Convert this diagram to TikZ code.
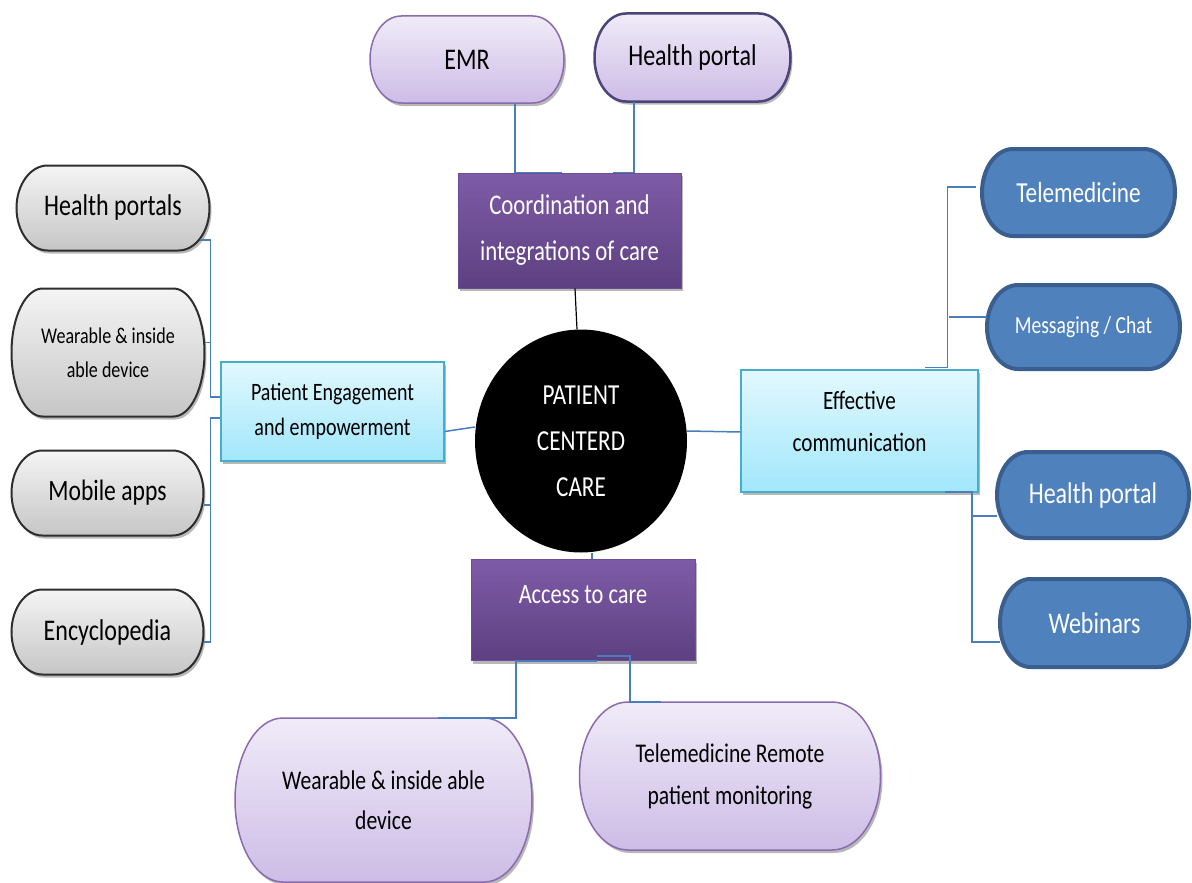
\documentclass[tikz,border=0pt]{standalone}
\usepackage{fontspec}
\setmainfont{Carlito}[FakeStretch=0.8]
\usetikzlibrary{shapes.geometric,shadows}
\definecolor{lineblue}{HTML}{4A7EBB}
\definecolor{lavtop}{HTML}{F0EBF8}
\definecolor{lavbot}{HTML}{CDBCE6}
\definecolor{lavborder}{HTML}{8A6BAD}
\definecolor{hpborder}{HTML}{4B4479}
\definecolor{grytop}{HTML}{F4F4F4}
\definecolor{grybot}{HTML}{C6C6C6}
\definecolor{gryborder}{HTML}{2E2E2E}
\definecolor{bluefill}{HTML}{4F81BD}
\definecolor{blueborder}{HTML}{3A5E8E}
\definecolor{cyantop}{HTML}{E2F8FE}
\definecolor{cyanbot}{HTML}{A1E7FB}
\definecolor{cyanborder}{HTML}{45AFCB}
\definecolor{purtop}{HTML}{7E5BA7}
\definecolor{purbot}{HTML}{5D4081}
\definecolor{purborder}{HTML}{6C4E95}
\newcommand\myfs[2]{\fontsize{#1pt}{#2pt}\selectfont}
% #1 shape style, #2 text style, #3 name, #4 cx, #5 cy, #6 w, #7 h, #8 text
\newcommand\pill[8]{%
  \pgfmathsetmacro\pxa{#4-#6/2}\pgfmathsetmacro\pxb{#4+#6/2}%
  \pgfmathsetmacro\pya{#5-#7/2}\pgfmathsetmacro\pyb{#5+#7/2}%
  \pgfmathsetmacro\prx{0.161*#6}\pgfmathsetmacro\pry{#7/2}%
  \path[#1] ({\pxa+\prx},\pya) -- ({\pxb-\prx},\pya)
    arc[start angle=90,end angle=-90,x radius=\prx pt,y radius=\pry pt]
    -- ({\pxa+\prx},\pyb)
    arc[start angle=270,end angle=90,x radius=\prx pt,y radius=\pry pt] -- cycle;
  \node[#2,inner sep=0pt,align=center,minimum width=#6pt,minimum height=#7pt] (#3) at (#4,#5) {#8};%
}
\begin{document}
\begin{tikzpicture}[x=1pt,y=-1pt,
  conn/.style={draw=lineblue,line width=1.5pt},
  shad/.style={drop shadow={shadow xshift=2pt,shadow yshift=-3pt,opacity=0.28,fill=black}},
  lav/.style={top color=lavtop,bottom color=lavbot,draw=lavborder,line width=1.5pt,shad},
  gry/.style={top color=grytop,bottom color=grybot,draw=gryborder,line width=2pt,shad},
  blu/.style={fill=bluefill,draw=blueborder,line width=4pt},
  dtxt/.style={text=black},
  wtxt/.style={text=white},
  cyanbox/.style={rectangle,top color=cyantop,bottom color=cyanbot,draw=cyanborder,line width=1.5pt,shad,inner sep=0pt,align=center},
  purbox/.style={rectangle,top color=purtop,bottom color=purbot,draw=purborder,line width=1pt,shad,inner sep=0pt,align=center,text=white}
]
\useasboundingbox[fill=white] (0,0) rectangle (1192,883);

% top pills
\pill{lav}{dtxt,font=\myfs{30}{36}}{emr}{467}{59.5}{194}{87}{EMR}
\pill{lav,draw=hpborder,line width=2.5pt}{dtxt,font=\myfs{30}{36}}{hpt}{692.5}{57.5}{196}{88}{Health portal}

% left gray pills
\pill{gry}{dtxt,font=\myfs{30}{36}}{hps}{113}{208}{193}{85}{Health portals}
\pill{gry}{dtxt,font=\myfs{22.5}{34}}{gw}{108}{352.5}{193}{128}{Wearable \& inside\\able device}
\pill{gry}{dtxt,font=\myfs{29.5}{36}}{ma}{107.5}{493}{192}{85}{Mobile apps}
\pill{gry}{dtxt,font=\myfs{30}{36}}{enc}{107.5}{632}{192}{85}{Encyclopedia}

% right blue pills
\pill{blu}{wtxt,font=\myfs{29}{36}}{tm}{1078.5}{192.5}{193}{87}{Telemedicine}
\pill{blu}{wtxt,font=\myfs{24.5}{30}}{ms}{1083.5}{327}{193}{84}{Messaging / Chat}
\pill{blu}{wtxt,font=\myfs{30}{36}}{hpr}{1093}{495}{192}{86}{Health portal}
\pill{blu}{wtxt,font=\myfs{30}{36}}{wb}{1094.5}{623}{189}{88}{Webinars}

% bottom pills
\pill{lav}{dtxt,font=\myfs{27}{40}}{bw}{383.5}{800}{297}{164}{Wearable \& inside able\\device}
\pill{lav}{dtxt,font=\myfs{27}{42}}{tr}{730}{776}{301}{148}{Telemedicine Remote\\patient monitoring}

% boxes
\node[purbox,minimum width=223pt,minimum height=115pt,font=\myfs{28.5}{46}] (coord) at (569.5,230.5) {Coordination and\\integrations of care};
\node[cyanbox,minimum width=223pt,minimum height=99pt,font=\myfs{25}{35}] (pe) at (332.5,411.5) {Patient Engagement\\and empowerment};
\node[cyanbox,minimum width=237pt,minimum height=122pt,font=\myfs{26.5}{42}] (ec) at (859.5,431) {Effective\\communication\\[-22pt]};
\node[purbox,minimum width=224pt,minimum height=101pt,text height=18pt,text depth=32pt,font=\myfs{28}{34}] (atc) at (583,610) {Access to care};

% centre
\node[ellipse,fill=black,inner sep=0pt,minimum width=212pt,minimum height=223pt,text=white,align=center,font=\myfs{29}{46}] (pcc) at (581,441) {PATIENT\\CENTERD\\CARE};

% connectors
\draw[conn] ([xshift=48pt]emr.south) |- ([xshift=-7.5pt]coord.north);
\draw[conn] ([xshift=-58.5pt]hpt.south) |- ([xshift=43.5pt]coord.north);
\draw[line width=1.2pt,black] ([xshift=5.5pt]coord.south) -- ([xshift=-4pt]pcc.north);

\draw[conn] ([yshift=-20pt]pe.east) -- ([yshift=14pt]pcc.west);
\draw[conn] ([yshift=10pt]pcc.east) -- ([yshift=-1pt]ec.west);
\draw[conn] ([xshift=11pt]pcc.south) -- ([xshift=9pt]atc.north);

\draw[conn] ([xshift=-10pt,yshift=-32pt]hps.east) -- ++(11,0) |- ([yshift=14.5pt]pe.west);
\draw[conn] ([yshift=10pt]gw.east) -- ++(6,0);
\draw[conn] ([yshift=-6.5pt]pe.west) -- ++(-10,0) |- ([yshift=-10pt]enc.east);
\draw[conn] ([yshift=-12pt]ma.east) -- ++(7,0);

\draw[conn] ([xshift=65.5pt,yshift=2pt]ec.north) -- ++(22.5,0) |- ([xshift=-6pt,yshift=5.5pt]tm.west);
\draw[conn] ([yshift=10pt]ms.west) -- ++(-38,0);
\draw[conn] ([xshift=85.5pt,yshift=1pt]ec.south) -- ++(27,0) |- ([yshift=-19pt]wb.west);
\draw[conn] ([yshift=-21pt]hpr.west) -- ++(-25,0);

\draw[conn] ([xshift=14pt]atc.south) -- ++(-81,0) |- ([xshift=54pt]bw.north);
\draw[conn] ([xshift=14pt,yshift=5pt]atc.south) -- ++(33,0) |- ([xshift=-69pt]tr.north);
\end{tikzpicture}
\end{document}
